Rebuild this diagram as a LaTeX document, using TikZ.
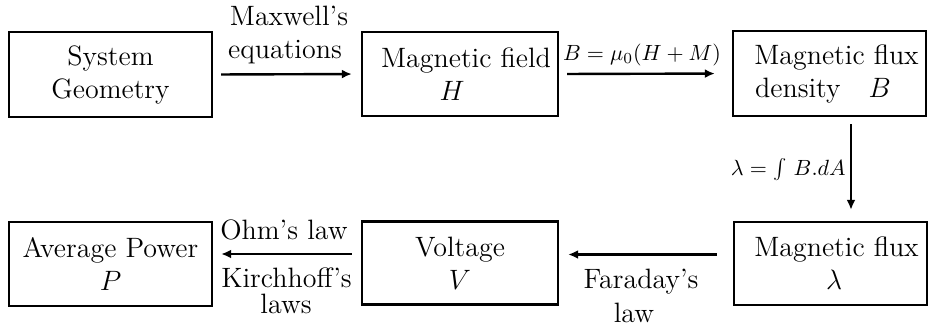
\RequirePackage{fix-cm}
\documentclass[tikz,border=0pt]{standalone}
\usepackage{fontspec}
\usetikzlibrary{arrows.meta}
\newcommand{\bigtxt}{\fontsize{14}{16.5}\selectfont}
\newcommand{\eqtxt}{\fontsize{11}{13}\selectfont}
\begin{document}
\begin{tikzpicture}[x=0.5pt,y=-0.5pt,
  box/.style={draw,line width=1.2pt,inner sep=0pt,align=center,font=\bigtxt},
  lbl/.style={inner sep=0pt,anchor=base,font=\bigtxt},
  eqlbl/.style={inner sep=0pt,font=\eqtxt},
  arr/.style={line width=1.2pt,-{Latex[length=5pt,width=4.5pt]}}]
\useasboundingbox (0,0) rectangle (928,328);
% boxes
\node[box,minimum width=101.5pt,minimum height=42.5pt] (geo) at (110.5,74.5) {System\\Geometry};
\node[box,minimum width=98pt,minimum height=42pt] (field) at (460,74) {\hspace*{6pt}Magnetic field\\$H$\hspace*{8pt}};
\node[box,minimum width=96.5pt,minimum height=42.5pt] (fluxB) at (829.5,73.5) {\hspace*{7pt}Magnetic flux\\density\quad $B$\hspace*{6.5pt}};
\node[box,minimum width=101.5pt,minimum height=42pt] (power) at (110.5,264) {Average Power\\$P$};
\node[box,minimum width=98pt,minimum height=41.5pt] (volt) at (460,263) {Voltage\\$V$};
\node[box,minimum width=96.5pt,minimum height=41.5pt] (flux) at (830.5,263.5) {\hspace*{6pt}Magnetic flux\\\hspace*{3.5pt}$\lambda$};
% connectors
\draw[arr,shorten <=4pt,shorten >=4.5pt] (geo.east) -- (field.west);
\draw[arr,shorten <=4pt,shorten >=8.5pt] (field.east) -- (fluxB.west);
\coordinate (vs) at ([xshift=10.75pt]fluxB.south);
\draw[arr,shorten <=3.5pt,shorten >=5.5pt] (vs) -- (vs |- flux.north);
\coordinate (fs) at ([yshift=4.5pt]flux.west);
\draw[arr,shorten <=8pt,shorten >=4.5pt] (fs) -- (fs -| volt.east);
\coordinate (vw) at ([yshift=4.5pt]volt.west);
\draw[arr,shorten <=4.5pt,shorten >=4pt] (vw) -- (vw -| power.east);
% labels
\node[lbl] (mx1) at (289,25) {Maxwell's};
\node[lbl] (mx2) at (285,58) {equations};
\node[eqlbl,anchor=base] (bmu) at (642,60) {$B=\mu_0(H+M)$};
\node[eqlbl,anchor=base east] (lam) at (846,175) {$\lambda=\int\,B.dA$};
\node[lbl] (ohm) at (284,239) {Ohm's law};
\node[lbl] (kir1) at (286.5,287) {Kirchhoff's};
\node[lbl] (kir2) at (286,313) {laws};
\node[lbl] (far1) at (641,288) {Faraday's};
\node[lbl] (far2) at (634,322) {law};
\end{tikzpicture}
\end{document}
